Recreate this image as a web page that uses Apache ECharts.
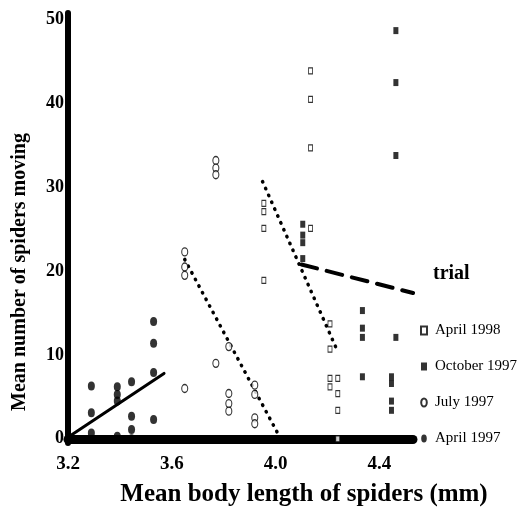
<!DOCTYPE html>
<html>
<head>
<meta charset="utf-8">
<script src="https://cdn.jsdelivr.net/npm/echarts@6/dist/echarts.min.js"></script>
<style>
  html, body { margin: 0; padding: 0; background: #fff; }
  #spider-chart { width: 518px; height: 510px; }
</style>
</head>
<body>
<div id="spider-chart"></div>
<script>
// tick labels
var xTicks = [3.2, 3.6, 4.0, 4.4];
var yTicks = [0, 10, 20, 30, 40, 50];

// [body length, spiders moving]
var april1998 = [[3.955, 28.1], [3.955, 27.1], [3.955, 25.1], [3.955, 18.9],
  [4.135, 43.9], [4.135, 40.5], [4.135, 34.7], [4.135, 25.1],
  [4.21, 13.7], [4.21, 10.7], [4.21, 7.2], [4.21, 6.2],
  [4.24, 7.2], [4.24, 5.4], [4.24, 3.4], [4.24, 0]];
var october1997 = [[4.105, 25.6], [4.105, 24.3], [4.105, 23.4], [4.105, 21.5],
  [4.335, 15.3], [4.335, 13.2], [4.335, 12.1], [4.335, 7.4],
  [4.447, 7.4], [4.447, 6.6], [4.447, 4.5], [4.447, 3.4],
  [4.464, 48.7], [4.464, 42.5], [4.464, 33.8], [4.464, 12.1]];
var july1997 = [[3.65, 22.3], [3.65, 20.5], [3.65, 19.5], [3.65, 6.0],
  [3.77, 33.2], [3.77, 32.3], [3.77, 31.5], [3.77, 9.0],
  [3.82, 11.0], [3.82, 5.4], [3.82, 4.2], [3.82, 3.3],
  [3.92, 6.4], [3.92, 5.3], [3.92, 2.5], [3.92, 1.8]];
var april1997 = [[3.29, 6.3], [3.29, 3.1], [3.29, 0.7],
  [3.39, 6.2], [3.39, 5.3], [3.39, 4.5], [3.39, 0.3],
  [3.445, 6.8], [3.445, 2.7], [3.445, 1.1], [3.445, 0],
  [3.53, 14.0], [3.53, 11.4], [3.53, 7.9], [3.53, 2.3]];

// fitted lines, end points
var fitApril1998 = [[3.95, 30.7], [4.24, 10.4]];
var fitOctober1997 = [[4.10, 20.8], [4.53, 17.4]];
var fitJuly1997 = [[3.65, 21.4], [4.02, 0]];
var fitApril1997 = [[3.2, 0.2], [3.57, 7.8]];

var serif = '"Liberation Serif", "DejaVu Serif", serif';
var ellipseIcon = 'path://M0,5 A3.5,5 0 1 1 7,5 A3.5,5 0 1 1 0,5 Z';

var chart = echarts.init(document.getElementById('spider-chart'));

function fitLine(data, lineType, width) {
  return {
    type: 'line',
    data: data,
    showSymbol: false,
    silent: true,
    z: 1,
    lineStyle: { color: '#000', width: width, type: lineType, cap: 'round' }
  };
}

var option = {
  backgroundColor: '#fff',
  animation: false,
  grid: { left: 68, right: 105, top: 13, bottom: 67 },
  title: {
    text: 'trial',
    left: 428,
    top: 259,
    textStyle: { fontFamily: serif, fontWeight: 'bold', fontSize: 20, color: '#000' }
  },
  legend: {
    orient: 'vertical',
    left: 420,
    top: 323,
    padding: 0,
    itemGap: 21,
    itemWidth: 6,
    itemHeight: 8,
    data: [
      { name: 'April 1998', icon: 'rect' },
      { name: 'October 1997', icon: 'rect' },
      { name: 'July 1997', icon: ellipseIcon },
      { name: 'April 1997', icon: ellipseIcon }
    ],
    textStyle: { fontFamily: serif, fontSize: 15, color: '#000', lineHeight: 15, padding: [0, 0, 0, 3] }
  },
  xAxis: {
    type: 'value',
    min: 3.2,
    max: 4.53,
    axisLine: { lineStyle: { color: '#000', width: 9 } },
    axisTick: { show: false },
    splitLine: { show: false },
    axisLabel: {
      customValues: xTicks,
      margin: 12,
      fontFamily: serif,
      fontWeight: 'bold',
      fontSize: 19,
      color: '#000',
      formatter: function (v) { return v.toFixed(1); }
    }
  },
  yAxis: {
    type: 'value',
    min: -0.5,
    max: 50.8,
    axisLine: { show: true, lineStyle: { color: '#000', width: 6 } },
    axisTick: { show: false },
    splitLine: { show: false },
    axisLabel: {
      customValues: yTicks,
      margin: 4,
      fontFamily: serif,
      fontWeight: 'bold',
      fontSize: 18,
      color: '#000'
    }
  },
  graphic: [
    {
      type: 'text',
      x: 20,
      y: 272,
      rotation: Math.PI / 2,
      style: {
        text: 'Mean number of spiders moving',
        font: 'bold 20px ' + serif,
        fill: '#000',
        align: 'center',
        verticalAlign: 'middle'
      }
    },
    {
      type: 'text',
      x: 304,
      y: 495,
      style: {
        text: 'Mean body length of spiders (mm)',
        font: 'bold 25px ' + serif,
        fill: '#000',
        align: 'center',
        verticalAlign: 'middle'
      }
    }
  ],
  series: [
    {
      name: 'April 1998',
      type: 'scatter',
      data: april1998,
      symbol: 'rect',
      symbolSize: [4, 6],
      itemStyle: { color: '#fff', borderColor: '#000', borderWidth: 1 }
    },
    {
      name: 'October 1997',
      type: 'scatter',
      data: october1997,
      symbol: 'rect',
      symbolSize: [5, 7],
      itemStyle: { color: '#000' }
    },
    {
      name: 'July 1997',
      type: 'scatter',
      data: july1997,
      symbol: 'circle',
      symbolSize: [6, 8],
      itemStyle: { color: '#fff', borderColor: '#000', borderWidth: 1.2 }
    },
    {
      name: 'April 1997',
      type: 'scatter',
      data: april1997,
      symbol: 'circle',
      symbolSize: [7, 9],
      itemStyle: { color: '#000' }
    },
    fitLine(fitApril1998, [0.5, 7], 3.5),
    fitLine(fitOctober1997, [16, 10], 4),
    fitLine(fitJuly1997, [0.5, 7], 3.5),
    fitLine(fitApril1997, 'solid', 3)
  ]
};

chart.setOption(option);
</script>
</body>
</html>
